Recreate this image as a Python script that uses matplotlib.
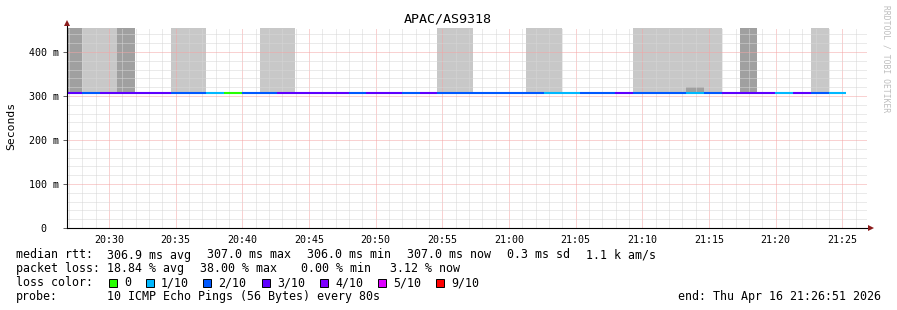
import matplotlib
matplotlib.use("Agg")
import matplotlib.pyplot as plt
from matplotlib.patches import Rectangle, Polygon
import numpy as np

# ---------------- data ----------------
title = "APAC/AS9318"
window_start = "20:26:51"
window_end = "21:26:51"
first_sample = "20:26:38"
sample_step_s = 80

loss_pings = [2.6, 1.6, 2.6, 2.6, 2.6, 2.6, 1.6, 1.6, 0.8, 0.0,
              1.6, 1.6, 2.6, 2.6, 2.6, 2.6, 1.6, 2.6, 2.6, 1.6,
              2.6, 1.6, 1.6, 1.6, 1.6, 1.6, 1.6, 0.8, 0.8, 1.6,
              1.6, 2.6, 1.6, 1.6, 1.6, 0.8, 1.6, 2.6, 2.6, 2.6,
              0.8, 2.6, 1.6, 0.8]
# median rtt per sample (ms)
median_ms = [307.0, 307.0, 307.0, 307.0, 307.0, 307.0, 307.0, 307.0, 307.0, 307.0,
             307.0, 307.0, 307.0, 307.0, 307.0, 306.0, 306.0, 307.0, 307.0, 307.0,
             307.0, 306.0, 307.0, 307.0, 307.0, 307.0, 307.0, 307.0, 307.0, 307.0,
             307.0, 307.0, 307.0, 307.0, 307.0, 307.0, 307.0, 306.0, 307.0, 306.0,
             307.0, 307.0, 307.0, 307.0]
# smoke: 0 none, 1 light (to top), 2 dark (to top)
smoke_kind = [2, 1, 1, 2, 0, 0, 1, 1, 0, 0,
              0, 1, 1, 0, 0, 0, 0, 0, 0, 0,
              0, 1, 1, 0, 0, 0, 1, 1, 0, 0,
              0, 0, 1, 1, 1, 1, 1, 0, 2, 0,
              0, 0, 1, 0]
# inner dark smoke top (ms) inside light smoke, nan if none
inner_smoke_top = [np.nan] * 35 + [319.5, 309.5] + [np.nan] * 7

y_max_ms = 454.5
y_ticks_ms = [0, 100, 200, 300, 400]
y_tick_labels = ["0  ", "100 m", "200 m", "300 m", "400 m"]

loss_levels = [0, 1, 2, 3, 4, 5, 9]
loss_labels = ["0", "1/10", "2/10", "3/10", "4/10", "5/10", "9/10"]
loss_colors = ["#26ff00", "#00b8ff", "#0059ff", "#5e00ff", "#7e00ff", "#dd00ff", "#ff0000"]

stats_median = ["median rtt:", "306.9 ms avg", "307.0 ms max", "306.0 ms min",
                "307.0 ms now", "0.3 ms sd", "1.1 k am/s"]
stats_loss = ["packet loss:", "18.84 % avg", "38.00 % max", "0.00 % min", "3.12 % now"]
probe_text = ["probe:", "10 ICMP Echo Pings (56 Bytes) every 80s"]
end_text = "end: Thu Apr 16 21:26:51 2026"

# ---------------- helpers ----------------
def hms(s):
    h, m, sec = [float(v) for v in s.split(":")]
    return h * 3600 + m * 60 + sec

def loss_color(l):
    if l <= 0:
        return loss_colors[0]
    for lev, col in zip(loss_levels[1:], loss_colors[1:]):
        if l <= lev:
            return col
    return loss_colors[-1]

n = len(median_ms)
starts = hms(first_sample) + sample_step_s * np.arange(n)
ends = starts + sample_step_s
med = np.array(median_ms)

W, H = 897, 310
fig = plt.figure(figsize=(W / 100, H / 100), dpi=100)
fig.patch.set_facecolor("white")
ax = fig.add_axes([67 / W, (H - 228) / H, 800 / W, 200 / H])
ax.set_facecolor("white")

x0, x1 = hms(window_start), hms(window_end)
ax.set_xlim(x0, x1)
ax.set_ylim(0, y_max_ms)

LIGHT = "#c8c8c8"
DARK = "#a0a0a0"

# smoke bars
for i in range(n):
    if smoke_kind[i] == 0:
        continue
    col = DARK if smoke_kind[i] == 2 else LIGHT
    ax.bar(starts[i], y_max_ms - med[i], bottom=med[i], width=sample_step_s,
           align="edge", color=col, linewidth=0, zorder=1)
    if not np.isnan(inner_smoke_top[i]):
        ax.bar(starts[i], inner_smoke_top[i] - med[i], bottom=med[i],
               width=sample_step_s, align="edge", color=DARK, linewidth=0, zorder=1.1)

# grid
ax.set_xticks(np.arange(hms("20:30:00"), x1, 300))
ax.set_xticks(np.arange(hms("20:27:00"), x1, 60), minor=True)
ax.set_yticks(y_ticks_ms)
ax.set_yticks(np.arange(0, y_max_ms, 20), minor=True)
ax.grid(which="minor", color="#d6d6d6", linestyle=(0, (1, 1)), linewidth=0.72, zorder=2)
ax.grid(which="major", color="#f4a4a4", linestyle=(0, (1, 1)), linewidth=0.72, zorder=2.1)
ax.set_axisbelow(False)

# median line coloured by loss
ax.hlines(med, starts, ends, colors=[loss_color(l) for l in loss_pings],
          linewidth=1.5, zorder=4)

# tick labels
def fmt_time(v):
    v = int(round(v))
    return f"{v // 3600:02d}:{(v % 3600) // 60:02d}"

ax.set_xticklabels([fmt_time(v) for v in ax.get_xticks()])
ax.set_yticklabels(y_tick_labels)
mono = "DejaVu Sans Mono"
ax.tick_params(axis="x", which="both", length=0, pad=5, labelsize=7.2, labelcolor="#000000")
ax.tick_params(axis="y", which="major", length=3, width=0.7, color="#606060", pad=3, labelsize=7.2)
ax.tick_params(axis="y", which="minor", length=0)
for lab in ax.get_xticklabels() + ax.get_yticklabels():
    lab.set_family(mono)

for s in ax.spines.values():
    s.set_visible(False)

# axes lines with arrows
ax.plot([0, 0], [0, 1 + 6 / 200], transform=ax.transAxes, color="black",
        lw=0.8, clip_on=False, zorder=5)
ax.plot([0, 1 + 4 / 800], [0, 0], transform=ax.transAxes, color="black",
        lw=0.8, clip_on=False, zorder=5)
arrow_col = "#8b1a1a"
ax.add_patch(Polygon([(-3 / 800, 1 + 2 / 200), (3 / 800, 1 + 2 / 200), (0, 1 + 8 / 200)],
                     closed=True, transform=ax.transAxes, color=arrow_col,
                     clip_on=False, zorder=6, lw=0))
ax.add_patch(Polygon([(1 + 1 / 800, -3 / 200), (1 + 1 / 800, 3 / 200), (1 + 7 / 800, 0)],
                     closed=True, transform=ax.transAxes, color=arrow_col,
                     clip_on=False, zorder=6, lw=0))

# title and labels
def ftext(x, y, s, **kw):
    kw.setdefault("family", mono)
    kw.setdefault("fontsize", 8.4)
    kw.setdefault("va", "center")
    fig.text(x / W, 1 - y / H, s, **kw)

ftext(448, 19, title, fontsize=9.6, ha="center")
ftext(11, 126, "Seconds", rotation=90, ha="center", fontsize=8.2)
ftext(886, 59, "RRDTOOL / TOBI OETIKER", rotation=270, ha="center",
      fontsize=5.8, color="#bdbdbd")

for s, x in zip(stats_median, [16, 107, 207, 307, 407, 507, 586]):
    ftext(x, 255, s)
for s, x in zip(stats_loss, [16, 107, 200, 301, 390]):
    ftext(x, 268.5, s)
ftext(16, 282.5, "loss color:")
for col, lab, bx in zip(loss_colors, loss_labels, [109, 146, 203, 262, 320, 378, 436]):
    fig.add_artist(Rectangle((bx / W, 1 - 286.5 / H), 8 / W, 8 / H,
                             transform=fig.transFigure, facecolor=col,
                             edgecolor="black", linewidth=0.7))
    ftext(bx + 15, 282.5, lab)
for s, x in zip(probe_text, [16, 107]):
    ftext(x, 296.5, s)
ftext(881, 296.5, end_text, ha="right")

fig.savefig("out.png", dpi=100, facecolor="white")
